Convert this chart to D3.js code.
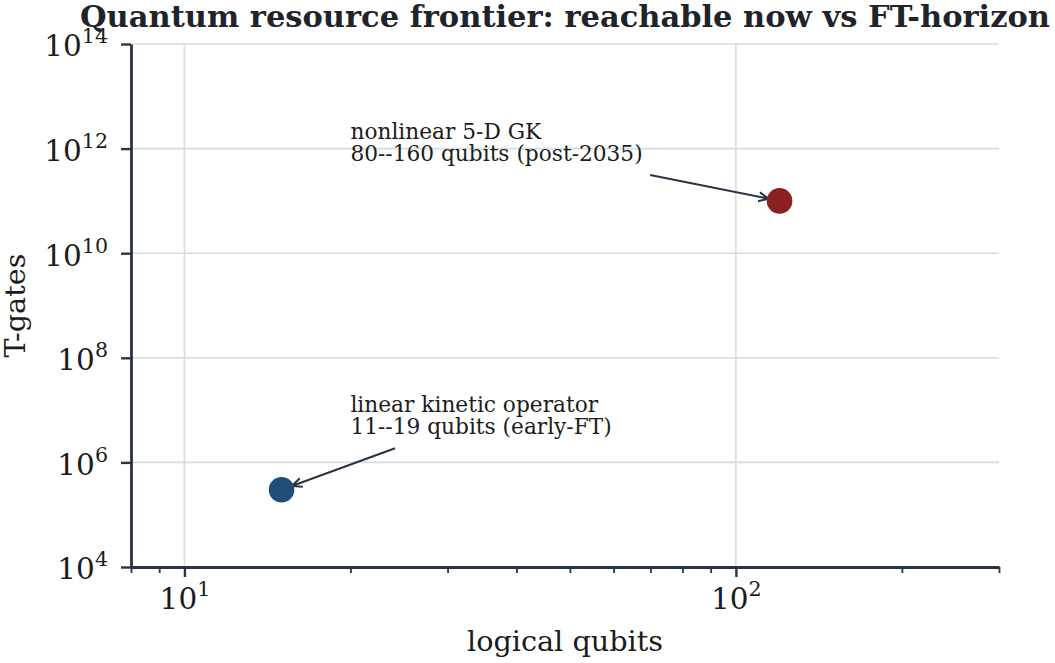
<!DOCTYPE html>
<html>
<head>
<meta charset="utf-8">
<script src="https://cdn.jsdelivr.net/npm/d3@7"></script>
<style>
  body { margin: 0; background: #fff; }
  svg { display: block; }
</style>
</head>
<body>
<svg width="1055" height="663"></svg>
<script>
  // data
  const tasks = ["linear kinetic operator", "nonlinear 5-D GK"];
  const notes = ["11--19 qubits (early-FT)", "80--160 qubits (post-2035)"];
  const qubits = [15, 120];
  const tgates = [3e5, 1e11];
  const colors = ["#1f4e79", "#8b2121"];
  // where each label's first line sits (data coords)
  const noteX = [20, 20];
  const noteY = [9.4e6, 1.55e12];

  const xMajor = [10, 100];
  const xMinor = [8, 9, 20, 30, 40, 50, 60, 70, 80, 90, 200, 300];
  const yMajor = [1e4, 1e6, 1e8, 1e10, 1e12, 1e14];

  const svg = d3.select("svg"),
      width = +svg.attr("width"),
      height = +svg.attr("height");

  const margin = {top: 44, right: 56, bottom: 96, left: 131};
  const ink = "#2a3441";
  const txt = "#1c1c1c";
  const font = "'DejaVu Serif', serif";

  const x = d3.scaleLog()
      .domain([8, 300])
      .range([margin.left, width - margin.right]);

  const y = d3.scaleLog()
      .domain([1e4, 1e14])
      .range([height - margin.bottom, margin.top]);

  // gridlines
  const grid = svg.append("g").attr("stroke", "#d6dce2").attr("stroke-width", 1.6);
  grid.selectAll("line.gx")
      .data(xMajor)
      .join("line")
      .attr("x1", d => x(d)).attr("x2", d => x(d))
      .attr("y1", y.range()[0]).attr("y2", y.range()[1]);
  grid.selectAll("line.gy")
      .data(yMajor)
      .join("line")
      .attr("y1", d => y(d)).attr("y2", d => y(d))
      .attr("x1", x.range()[0]).attr("x2", x.range()[1]);

  // write 10^n with a raised exponent
  function powText(sel) {
    sel.each(function(d) {
      const t = d3.select(this).text(null);
      t.append("tspan").text("10");
      t.append("tspan")
          .attr("font-size", 20.6)
          .attr("dy", -13)
          .text(Math.round(Math.log10(d)));
    });
  }

  // x axis
  const gx = svg.append("g")
      .attr("transform", `translate(0,${y.range()[0]})`);
  gx.call(d3.axisBottom(x).tickValues(xMinor).tickSize(6).tickSizeOuter(0).tickFormat(""));
  gx.call(g => g.selectAll(".tick line").attr("stroke-width", 1.8));
  const gxMaj = svg.append("g")
      .attr("transform", `translate(0,${y.range()[0]})`)
      .call(d3.axisBottom(x).tickValues(xMajor).tickSize(10).tickSizeOuter(0));
  gxMaj.select(".domain").remove();
  gxMaj.selectAll(".tick line").attr("stroke-width", 2.4);
  gxMaj.selectAll(".tick text")
      .attr("dy", null).attr("y", 41.5)
      .attr("font-family", font).attr("font-size", 29.5).attr("fill", txt)
      .call(powText);
  gx.select(".domain").attr("stroke-width", 2.8);

  // y axis
  const gy = svg.append("g")
      .attr("transform", `translate(${x.range()[0]},0)`)
      .call(d3.axisLeft(y).tickValues(yMajor).tickSize(10).tickSizeOuter(0).tickPadding(13));
  gy.select(".domain").attr("stroke-width", 2.8);
  gy.selectAll(".tick line").attr("stroke-width", 2.4);
  gy.selectAll(".tick text")
      .attr("dy", "0.4em")
      .attr("font-family", font).attr("font-size", 29.5).attr("fill", txt)
      .call(powText);

  svg.selectAll(".domain, .tick line").attr("stroke", ink);

  // titles
  svg.append("text")
      .attr("x", (x.range()[0] + x.range()[1]) / 2)
      .attr("y", 27)
      .attr("text-anchor", "middle")
      .attr("font-family", font).attr("font-weight", "bold").attr("font-size", 30.5)
      .attr("fill", "#1f232a")
      .text("Quantum resource frontier: reachable now vs FT-horizon");

  svg.append("text")
      .attr("x", (x.range()[0] + x.range()[1]) / 2)
      .attr("y", 651)
      .attr("text-anchor", "middle")
      .attr("font-family", font).attr("font-size", 28.7).attr("fill", txt)
      .text("logical qubits");

  svg.append("text")
      .attr("transform", `translate(25,${(y.range()[0] + y.range()[1]) / 2}) rotate(-90)`)
      .attr("text-anchor", "middle")
      .attr("font-family", font).attr("font-size", 28.7).attr("fill", txt)
      .text("T-gates");

  // annotations with arrows
  const notesG = svg.append("g");
  const labels = notesG.selectAll("text")
      .data(tasks)
      .join("text")
      .attr("font-family", font).attr("font-size", 21.7).attr("fill", txt)
      .attr("x", (d, i) => x(noteX[i]))
      .attr("y", (d, i) => y(noteY[i]));
  labels.append("tspan").text(d => d);
  labels.append("tspan")
      .attr("x", (d, i) => x(noteX[i]))
      .attr("dy", 22.8)
      .text((d, i) => notes[i]);

  labels.each(function(d, i) {
    const b = this.getBBox();
    const pad = 7.5;
    const cx = b.x + b.width / 2, cy = b.y + b.height / 2 + 1.5;
    const px = x(qubits[i]), py = y(tgates[i]);
    const dx = px - cx, dy = py - cy;
    // leave the padded text box
    const tx = (b.width / 2 + pad) / Math.abs(dx);
    const ty = (b.height / 2 + pad) / Math.abs(dy);
    const t = Math.min(tx, ty);
    const sx = cx + dx * t, sy = cy + dy * t;
    const len = Math.hypot(px - sx, py - sy);
    const ux = (px - sx) / len, uy = (py - sy) / len;
    const ex = px - ux * 11, ey = py - uy * 11;
    const hl = 10, hw = 4.5;
    notesG.append("path")
        .attr("d", `M${sx},${sy}L${ex},${ey}` +
            `M${ex - ux * hl - uy * hw},${ey - uy * hl + ux * hw}L${ex},${ey}` +
            `L${ex - ux * hl + uy * hw},${ey - uy * hl - ux * hw}`)
        .attr("fill", "none")
        .attr("stroke", ink)
        .attr("stroke-width", 2);
  });

  // points
  svg.append("g")
      .selectAll("circle")
      .data(qubits)
      .join("circle")
      .attr("cx", d => x(d))
      .attr("cy", (d, i) => y(tgates[i]))
      .attr("r", 12.8)
      .attr("fill", (d, i) => colors[i]);
</script>
</body>
</html>
